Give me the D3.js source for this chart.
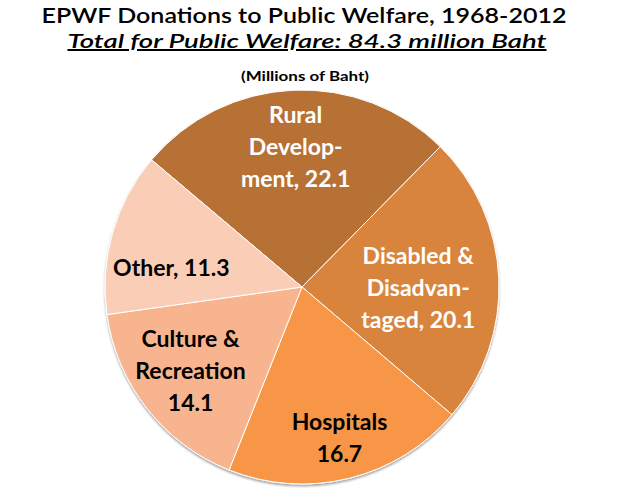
<!DOCTYPE html>
<html>
<head>
<meta charset="utf-8">
<title>EPWF Donations to Public Welfare</title>
<style>
	body { margin: 0; background: #fff; }
	svg { display: block; font-family: Lato, "Open Sans", sans-serif; }
</style>
</head>
<body>
<div id="chart"></div>
<script src="https://cdn.jsdelivr.net/npm/d3@7"></script>
<script>
// data (millions of Baht), clockwise from the top
var categories = ['Rural Development', 'Disabled & Disadvantaged', 'Hospitals', 'Culture & Recreation', 'Other'];
var values = [22.1, 20.1, 16.7, 14.1, 11.3];
var labelLines = [
	['Rural', 'Develop-', 'ment, 22.1'],
	['Disabled &', 'Disadvan-', 'taged, 20.1'],
	['Hospitals', '16.7'],
	['Culture &', 'Recreation', '14.1'],
	['Other, 11.3']
];
var colors = ['#b87134', '#d9843e', '#f79646', '#f8b48e', '#facdb6'];
var labelColors = ['#fff', '#fff', '#000', '#000', '#000'];
// where each label sits, as a fraction of the radius and a small angle nudge (deg)
var labelRadius = [0.71, 0.59, 0.79, 0.71, 0.67];
var labelNudge = [0, 3, 0, 1, -8];

var width = 620, height = 500;
var cx = 302, cy = 287, r = 197;

var svg = d3.select('#chart').append('svg')
	.attr('width', width)
	.attr('height', height);

// titles
svg.append('text')
	.attr('x', 304).attr('y', 23)
	.attr('text-anchor', 'middle')
	.attr('textLength', 525).attr('lengthAdjust', 'spacingAndGlyphs')
	.style('font-size', '21px')
	.style('font-weight', 600)
	.text('EPWF Donations to Public Welfare, 1968-2012');

svg.append('text')
	.attr('x', 307).attr('y', 48)
	.attr('text-anchor', 'middle')
	.attr('textLength', 479).attr('lengthAdjust', 'spacingAndGlyphs')
	.style('font-size', '20px')
	.style('font-style', 'italic')
	.style('font-weight', 600)
	.style('text-decoration', 'underline')
	.text('Total for Public Welfare: 84.3 million Baht');

svg.append('text')
	.attr('x', 305).attr('y', 81)
	.attr('text-anchor', 'middle')
	.attr('textLength', 128).attr('lengthAdjust', 'spacingAndGlyphs')
	.style('font-size', '13px')
	.style('font-weight', 'bold')
	.text('(Millions of Baht)');

// pie
var rows = categories.map(function (c, i) { return { name: c, value: values[i], i: i }; });

var startA = -49.8 * Math.PI / 180;
var pie = d3.pie()
	.value(function (d) { return d.value; })
	.sort(null)
	.startAngle(startA)
	.endAngle(startA + 2 * Math.PI);

var arc = d3.arc().innerRadius(0).outerRadius(r);

var defs = svg.append('defs');
defs.append('filter').attr('id', 'shadow')
	.attr('x', '-10%').attr('y', '-10%').attr('width', '120%').attr('height', '120%')
	.append('feDropShadow')
	.attr('dx', 0).attr('dy', 2).attr('stdDeviation', 1.2)
	.attr('flood-color', '#000').attr('flood-opacity', 0.35);

var g = svg.append('g').attr('transform', 'translate(' + cx + ',' + cy + ')');

var arcs = pie(rows);

g.append('g').attr('filter', 'url(#shadow)')
	.selectAll('path')
	.data(arcs)
	.enter()
	.append('path')
	.attr('d', arc)
	.attr('fill', function (d) { return colors[d.data.i]; })
	.attr('stroke', '#fff')
	.attr('stroke-width', 1);

// labels
var lineH = 32;
var lbl = g.selectAll('text.lbl')
	.data(arcs)
	.enter()
	.append('text')
	.attr('class', 'lbl')
	.attr('text-anchor', 'middle')
	.style('font-size', '23px')
	.style('font-weight', 'bold')
	.attr('fill', function (d) { return labelColors[d.data.i]; })
	.attr('transform', function (d) {
		var i = d.data.i;
		var a = (d.startAngle + d.endAngle) / 2 + labelNudge[i] * Math.PI / 180;
		var rr = r * labelRadius[i];
		return 'translate(' + (Math.sin(a) * rr) + ',' + (-Math.cos(a) * rr) + ')';
	});

lbl.each(function (d) {
	var lines = labelLines[d.data.i];
	var t = d3.select(this);
	var y0 = -(lines.length - 1) * lineH / 2 + 8;
	lines.forEach(function (s, k) {
		t.append('tspan')
			.attr('x', 0)
			.attr('y', y0 + k * lineH)
			.text(s);
	});
});
</script>
</body>
</html>
